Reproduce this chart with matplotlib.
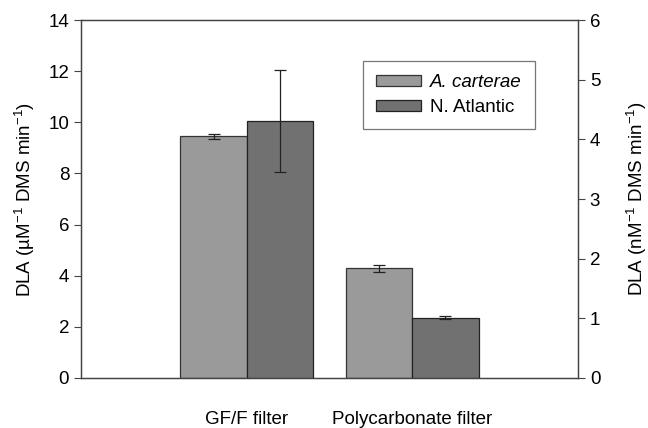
import numpy as np
import matplotlib
matplotlib.use("Agg")
from matplotlib import pyplot as plt

plt.rcParams['font.family'] = ['Liberation Sans', 'DejaVu Sans']
plt.rcParams['mathtext.default'] = 'regular'

filters = ["GF/F filter", "Polycarbonate filter"]
# A. carterae in uM^-1 DMS min^-1 (left axis)
carterae = [9.46, 4.29]
carterae_err = [0.10, 0.14]
# N. Atlantic in nM^-1 DMS min^-1 (right axis)
atlantic = [4.31, 1.01]
atlantic_err = [0.85, 0.03]

x = np.arange(len(filters))
width = 0.4

fig = plt.figure(figsize=(6.48, 4.28), dpi=100)
ax = fig.add_axes([0.125, 0.117, 0.767, 0.836])
ax2 = ax.twinx()

b1 = ax.bar(x - width / 2, carterae, width, yerr=carterae_err, color="#9a9a9a",
            edgecolor="#333333", linewidth=0.9, capsize=4,
            error_kw=dict(elinewidth=0.9, capthick=0.9, ecolor="#222222"))
b2 = ax2.bar(x + width / 2, atlantic, width, yerr=atlantic_err, color="#717171",
             edgecolor="#222222", linewidth=0.9, capsize=4,
             error_kw=dict(elinewidth=0.9, capthick=0.9, ecolor="#222222"))

ax.set_xlim(-1, 2)
ax.set_ylim(0, 14)
ax2.set_ylim(0, 6)
ax.set_yticks(range(0, 15, 2))
ax2.set_yticks(range(0, 7))

ax.set_xticks(x)
ax.set_xticklabels(filters, fontsize=13.5)
ax.tick_params(axis="x", length=0, pad=24)
ax.tick_params(axis="y", direction="out", length=5, labelsize=13.5, color="#444444")
ax2.tick_params(axis="y", direction="out", length=5, labelsize=13.5, color="#444444")

for a in (ax, ax2):
    for s in a.spines.values():
        s.set_color("#444444")
        s.set_linewidth(0.9)

ax.set_ylabel("DLA (\u00b5M$^{-1}$ DMS min$^{-1}$)", fontsize=13.5, labelpad=8)
ax2.set_ylabel("DLA (nM$^{-1}$ DMS min$^{-1}$)", fontsize=13.5, labelpad=18)

leg = ax2.legend([b1, b2], ["A. carterae", "N. Atlantic"], loc="upper left",
                 bbox_to_anchor=(0.567, 0.885), borderaxespad=0, fontsize=13.5,
                 frameon=True, fancybox=False, edgecolor="#555555",
                 handlelength=2.4, handleheight=0.5, handletextpad=0.5,
                 borderpad=0.7, labelspacing=0.4)
leg.get_frame().set_linewidth(0.9)
leg.get_texts()[0].set_style("italic")

fig.savefig("out.png", dpi=100)
